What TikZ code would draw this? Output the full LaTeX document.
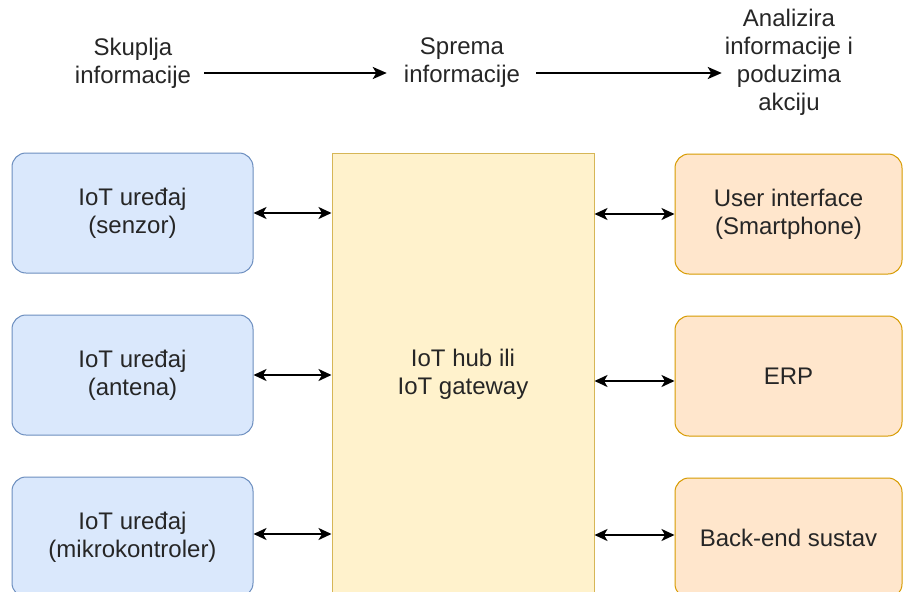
\documentclass[tikz,border=0pt]{standalone}
\usepackage{fontspec}
\setmainfont{Liberation Sans}
\usetikzlibrary{positioning,arrows.meta}

\definecolor{devfill}{HTML}{DAE8FC}
\definecolor{devline}{HTML}{6C8EBF}
\definecolor{hubfill}{HTML}{FFF2CC}
\definecolor{hubline}{HTML}{D6B656}
\definecolor{appfill}{HTML}{FFE6CC}
\definecolor{appline}{HTML}{D79B00}
\definecolor{txt}{HTML}{262626}

\begin{document}
\begin{tikzpicture}[x=1pt,y=-1pt]
			\tikzstyle{every node}=[font=\fontsize{24}{28}\selectfont, text=txt, align=center]
			\tikzstyle{label}=[inner sep=0pt]
			\tikzstyle{device}=[draw=devline, fill=devfill, line width=1pt, rounded corners=14pt, minimum width=241pt, minimum height=120pt]
			\tikzstyle{hubbox}=[draw=hubline, fill=hubfill, line width=1pt, minimum width=262pt, minimum height=442pt]
			\tikzstyle{app}=[draw=appline, fill=appfill, line width=1pt, rounded corners=14pt, minimum width=227pt, minimum height=120pt]
			\tikzstyle{flow}=[-{Stealth[length=14pt,width=12pt,inset=3.5pt]}, line width=2.3pt]
			\tikzstyle{link}=[{Stealth[length=13pt,width=12pt,inset=3.5pt]}-{Stealth[length=13pt,width=12pt,inset=3.5pt]}, line width=2pt]
			
			\useasboundingbox (0,0) rectangle (903,592);
			\clip (0,0) rectangle (903,592);
			\fill[white] (0,0) rectangle (903,592);
			
			% top row
			\node[label] (T1) at (133,63) {Skuplja\\informacije};
			\node[label] (T2) at (462,63) {Sprema\\informacije};
			\node[label] (T3) at (789,62) {Analizira\\informacije i\\poduzima\\akciju};
			\draw[flow] ([shift={(13pt,-10pt)}]T1.east) -- ([shift={(-17pt,-10pt)}]T2.west);
			\draw[flow] ([shift={(16pt,-10pt)}]T2.east) -- ([shift={(-3pt,-10pt)}]T3.west |- T2.east);
			
			% devices
			\node[device] (D1) at (132.5,213) {IoT uređaj\\(senzor)};
			\node[device, below=41pt of D1] (D2) {IoT uređaj\\(antena)};
			\node[device, below=41pt of D2] (D3) {IoT uređaj\\(mikrokontroler)};
			
			% hub
			\node[hubbox] (H) at (463,374) {IoT hub ili\\IoT gateway};
			
			% applications
			\node[app] (A1) at (788.5,214) {User interface\\(Smartphone)};
			\node[app, below=41pt of A1] (A2) {ERP};
			\node[app, below=41pt of A2] (A3) {Back-end sustav};
			
			\draw[link] (D1.east) -- (D1.east -| H.west);
			\draw[link] (D2.east) -- (D2.east -| H.west);
			\draw[link] ([yshift=3pt]D3.east) -- ([yshift=3pt]D3.east -| H.west);
			\draw[link] (H.east |- A1.west) -- (A1.west);
			\draw[link] ([yshift=-5pt]H.east |- A2.west) -- ([yshift=-5pt]A2.west);
			\draw[link] ([yshift=3pt]H.east |- A3.west) -- ([yshift=3pt]A3.west);
			
			
			\end{tikzpicture}
\end{document}
